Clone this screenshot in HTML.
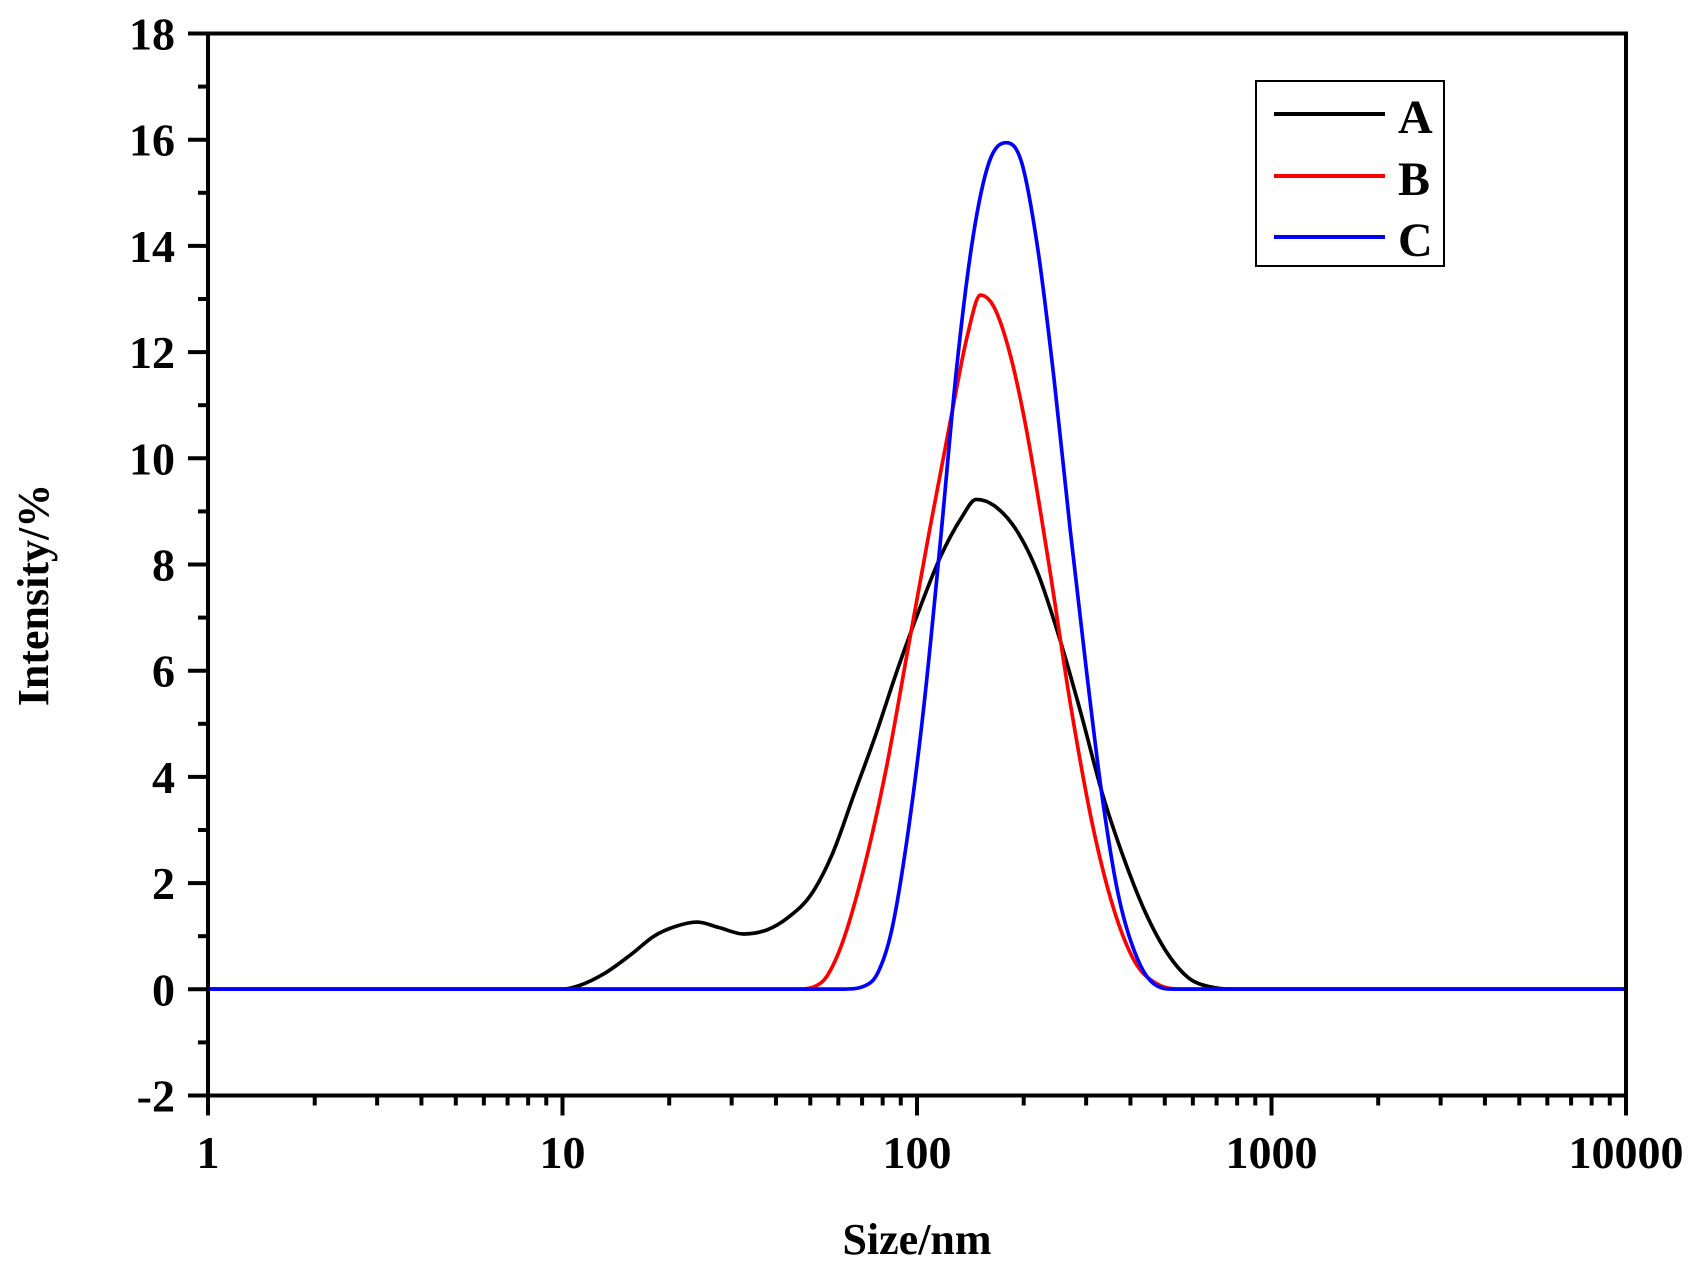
<!DOCTYPE html>
<html><head><meta charset="utf-8"><style>html,body{margin:0;padding:0;background:#fff}svg{display:block}</style></head>
<body>
<svg id="s" width="1695" height="1277" xmlns="http://www.w3.org/2000/svg" style="font-family:'Liberation Serif','Times New Roman',serif;font-weight:bold">
<rect x="0" y="0" width="1695" height="1277" fill="#fff"/>
<g id="ticks" stroke="#000" stroke-width="4"></g>
<g id="labels" font-size="46"></g>
<g id="curves" transform="scale(1.0810)" fill="none" stroke-width="3.4" stroke-linejoin="round"></g>
<rect x="208" y="33.5" width="1418" height="1062" fill="none" stroke="#000" stroke-width="4"/>
<rect x="1256" y="81" width="188" height="185" fill="#fff" stroke="#000" stroke-width="2"/>
<line x1="1274" y1="114" x2="1385" y2="114" stroke="#000" stroke-width="4"/>
<line x1="1274" y1="176" x2="1385" y2="176" stroke="#f00" stroke-width="4"/>
<line x1="1274" y1="237" x2="1385" y2="237" stroke="#00f" stroke-width="4"/>
<text x="1398" y="133" font-size="48">A</text>
<text x="1398" y="195" font-size="48">B</text>
<text x="1398" y="256" font-size="48">C</text>
<text x="917" y="1254" font-size="44" text-anchor="middle">Size/nm</text>
<text transform="translate(48,595) rotate(-90)" font-size="44" text-anchor="middle">Intensity/%</text>
</svg>
<script>
const NS="http://www.w3.org/2000/svg";
const L=208,R=1626,T=33.5,B=1095.5;
const ty=v=>B-(v+2)*(B-T)/20, tx=l=>L+l*(R-L)/4;
const tk=document.getElementById('ticks'),lb=document.getElementById('labels');
function ln(x1,y1,x2,y2){const e=document.createElementNS(NS,'line');e.setAttribute('x1',x1);e.setAttribute('y1',y1);e.setAttribute('x2',x2);e.setAttribute('y2',y2);tk.appendChild(e);}
function tx_(x,y,s,a){const e=document.createElementNS(NS,'text');e.setAttribute('x',x);e.setAttribute('y',y);e.setAttribute('text-anchor',a);e.textContent=s;lb.appendChild(e);}
for(let v=-2;v<=18;v++){const y=ty(v);if(v%2==0){ln(L-20,y,L,y);tx_(175,y+16,String(v),'end');}else ln(L-10,y,L,y);}
for(let d=0;d<=4;d++){const x=tx(d);ln(x,B,x,B+20);tx_(x,1168,String(Math.pow(10,d)),'middle');
 if(d<4)for(let m=2;m<=9;m++){const xx=tx(d+Math.log10(m));ln(xx,B,xx,B+10);}}
const data={
'#000':[[193,915],[520,915],[535,912],[560,900],[585,882],[605,866],[625,857],[645,853],[665,858],[688,864],[710,860],[730,848],[750,828],[770,790],[790,735],[810,680],[830,620],[850,565],[870,515],[890,478],[903,462],[920,468],[940,490],[960,530],[980,590],[1000,660],[1020,735],[1040,795],[1060,845],[1080,882],[1100,905],[1120,913],[1140,915],[1505,915]],
'#f00':[[193,915],[740,915],[755,912],[765,903],[780,870],[800,800],[820,710],[840,600],[860,490],[880,385],[895,310],[907,273],[920,285],[935,330],[950,400],[970,520],[990,650],[1010,760],[1030,840],[1050,890],[1070,910],[1090,915],[1505,915]],
'#00f':[[193,915],[780,915],[800,912],[812,900],[825,860],[840,770],[855,650],[870,500],[885,340],[900,220],[915,150],[931,132],[945,150],[960,230],[975,350],[990,490],[1005,620],[1020,740],[1035,830],[1055,893],[1075,914],[1085,915],[1505,915]]};
const cg=document.getElementById('curves');
for(const c in data){const p=data[c],n=p.length;
 const dl=[],m=[];
 for(let i=0;i<n-1;i++)dl.push((p[i+1][1]-p[i][1])/(p[i+1][0]-p[i][0]));
 m[0]=dl[0];m[n-1]=dl[n-2];
 for(let i=1;i<n-1;i++){m[i]=(dl[i-1]*dl[i]<=0)?0:(dl[i-1]+dl[i])/2;}
 for(let i=0;i<n-1;i++){if(dl[i]===0){m[i]=0;m[i+1]=0;continue;}
  const a=m[i]/dl[i],b=m[i+1]/dl[i],s=a*a+b*b;if(s>9){const t=3/Math.sqrt(s);m[i]=t*a*dl[i];m[i+1]=t*b*dl[i];}}
 let d='M'+p[0][0]+','+p[0][1];
 for(let i=0;i<n-1;i++){const h=(p[i+1][0]-p[i][0])/3;
  d+=` C${p[i][0]+h},${p[i][1]+m[i]*h} ${p[i+1][0]-h},${p[i+1][1]-m[i+1]*h} ${p[i+1][0]},${p[i+1][1]}`;}
 const e=document.createElementNS(NS,'path');e.setAttribute('d',d);e.setAttribute('stroke',c);cg.appendChild(e);}
</script>
</body></html>
